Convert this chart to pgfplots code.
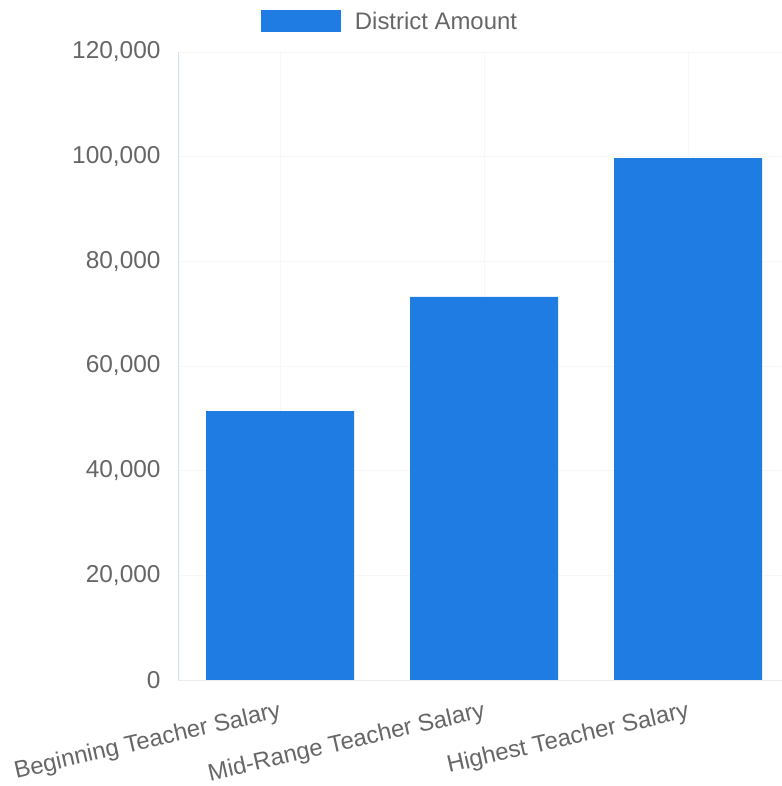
\documentclass[border=0pt]{standalone}
\usepackage{pgfplots}
\pgfplotsset{compat=1.18}
\usepackage{fontspec}
\setmainfont{Liberation Sans}
\definecolor{barblue}{RGB}{30,124,226}
\definecolor{labgray}{RGB}{102,102,102}
\definecolor{axblue}{RGB}{205,225,245}
\begin{document}
\begin{tikzpicture}
\useasboundingbox (0,0) rectangle (782bp,786bp);
\begin{axis}[
    at={(178bp,106bp)}, anchor=south west,
    scale only axis,
    width=604bp, height=628bp,
    xmin=-0.5, xmax=2.46,
    ymin=0, ymax=120000,
    axis x line*=bottom, axis y line*=left,
    x axis line style={draw=gray!15},
    y axis line style={draw=axblue},
    xtick={0,1,2},
    xticklabels={Beginning Teacher Salary,Mid-Range Teacher Salary,Highest Teacher Salary},
    ytick={0,20000,40000,60000,80000,100000,120000},
    major tick length=0pt,
    scaled y ticks=false,
    /pgf/number format/.cd, fixed, 1000 sep={,}, assume math mode=true,
    /pgfplots/.cd,
    yticklabel style={font=\fontsize{24.5}{28}\selectfont, text=labgray, xshift=-14bp},
    xticklabel style={font=\fontsize{24}{28}\selectfont, text=labgray, rotate=13, anchor=north east, yshift=-16bp, xshift=-3bp},
    grid=major,
    major grid style={draw=gray!6},
    legend style={at={(0.351,1.049)}, anchor=center, draw=none, fill=none,
        font=\fontsize{24}{28}\selectfont, text=labgray,
        legend columns=1},
    legend image code/.code={\fill[barblue] (-12bp,-11bp) rectangle (68bp,11bp); \path (80bp,0);},
]
\addplot[ybar, bar width=148bp, fill=barblue, draw=none]
    coordinates {(0,51400) (1,73200) (2,99700)};
\addlegendentry{District Amount}
\end{axis}
\end{tikzpicture}
\end{document}
